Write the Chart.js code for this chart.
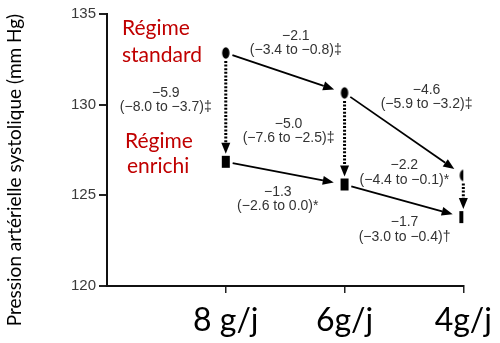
<!DOCTYPE html>
<html>
<head>
<meta charset="utf-8">
<script src="https://cdn.jsdelivr.net/npm/chart.js@4"></script>
<style>
  html, body { margin: 0; padding: 0; background: #fff; }
  #chart { display: block; }
</style>
</head>
<body>
<canvas id="chart" width="500" height="343"></canvas>
<script>
// 食塩摂取量ごとの収縮期血圧
const doses = ['8 g/j', '6g/j', '4g/j'];
const doseIndex = [1, 2, 3];
const standardBP = [132.85, 130.65, 126.1];
const enrichedBP = [126.85, 125.6, 123.8];
const yTicks = [120, 125, 130, 135];

// 差の表示（平均、95%CI）
const standardDiffs = [['\u22122.1', '(\u22123.4 to \u22120.8)\u2021'], ['\u22124.6', '(\u22125.9 to \u22123.2)\u2021']];
const enrichedDiffs = [['\u22121.3', '(\u22122.6 to 0.0)*'], ['\u22121.7', '(\u22123.0 to \u22120.4)\u2020']];
const betweenDiffs = [['\u22125.9', '(\u22128.0 to \u22123.7)\u2021'], ['\u22125.0', '(\u22127.6 to \u22122.5)\u2021'], ['\u22122.2', '(\u22124.4 to \u22120.1)*']];

const groupNames = [['Régime', 'standard'], ['Régime', 'enrichi']];
const yTitle = 'Pression artérielle systolique (mm Hg)';

function markerCanvas(kind) {
    const c = document.createElement('canvas');
    c.width = 12; c.height = 14;
    const g = c.getContext('2d');
    g.fillStyle = '#000';
    if (kind === 'ellipse') {
        g.beginPath();
        g.ellipse(6, 7, 3.7, 5.7, 0, 0, Math.PI * 2);
        g.fill();
    } else {
        g.fillRect(2, 1, 8, 12);
    }
    return c;
}

function arrow(ctx, x1, y1, x2, y2, dotted) {
    const dx = x2 - x1, dy = y2 - y1;
    const len = Math.hypot(dx, dy);
    const ux = dx / len, uy = dy / len;
    const headLen = 11, headW = 4.5;
    const bx = x2 - ux * headLen, by = y2 - uy * headLen;
    ctx.save();
    ctx.strokeStyle = '#000';
    ctx.fillStyle = '#000';
    if (dotted) {
        ctx.lineWidth = 3;
        ctx.setLineDash([2, 1.6]);
    } else {
        ctx.lineWidth = 1.8;
    }
    ctx.beginPath();
    ctx.moveTo(x1, y1);
    ctx.lineTo(bx, by);
    ctx.stroke();
    ctx.setLineDash([]);
    ctx.beginPath();
    ctx.moveTo(x2, y2);
    ctx.lineTo(bx - uy * headW, by + ux * headW);
    ctx.lineTo(bx + uy * headW, by - ux * headW);
    ctx.closePath();
    ctx.fill();
    ctx.restore();
}

function gapArrow(ctx, p, q, startGap, endGap, dotted) {
    const dx = q.x - p.x, dy = q.y - p.y;
    const len = Math.hypot(dx, dy);
    const ux = dx / len, uy = dy / len;
    arrow(ctx, p.x + ux * startGap, p.y + uy * startGap, q.x - ux * endGap, q.y - uy * endGap, dotted);
}

function twoLines(ctx, lines, x, y) {
    ctx.fillText(lines[0], x, y);
    ctx.fillText(lines[1], x, y + 14.5);
}

const annotations = {
    id: 'annotations',
    afterDatasetsDraw(chart) {
        const ctx = chart.ctx;
        const xs = chart.scales.x, ys = chart.scales.y;
        const S = standardBP.map((v, i) => ({ x: xs.getPixelForValue(doseIndex[i]), y: ys.getPixelForValue(v) }));
        const E = enrichedBP.map((v, i) => ({ x: xs.getPixelForValue(doseIndex[i]), y: ys.getPixelForValue(v) }));

        // 矢印
        for (let i = 0; i < 2; i++) {
            gapArrow(ctx, S[i], S[i + 1], 7, 11, false);
            gapArrow(ctx, E[i], E[i + 1], 7, 11, false);
        }
        for (let i = 0; i < 3; i++) {
            gapArrow(ctx, S[i], E[i], 8, 8, true);
        }

        // 数値ラベル
        ctx.save();
        ctx.fillStyle = '#333';
        ctx.font = '14px "Liberation Sans", Arial, sans-serif';
        ctx.textAlign = 'center';
        ctx.textBaseline = 'middle';
        twoLines(ctx, standardDiffs[0], S[0].x + 70, S[0].y - 17);
        twoLines(ctx, standardDiffs[1], S[1].x + 82, S[1].y - 3);
        twoLines(ctx, betweenDiffs[0], S[0].x - 60, S[0].y + 40);
        twoLines(ctx, betweenDiffs[1], S[1].x - 56, S[1].y + 31);
        twoLines(ctx, betweenDiffs[2], S[2].x - 59, S[2].y - 10);
        twoLines(ctx, enrichedDiffs[0], E[0].x + 52, E[0].y + 30);
        twoLines(ctx, enrichedDiffs[1], E[1].x + 60, E[1].y + 38);

        // グループ名
        ctx.fillStyle = '#c00000';
        ctx.font = '21px Lato, "Open Sans", sans-serif';
        ctx.textAlign = 'left';
        ctx.textBaseline = 'alphabetic';
        ctx.fillText(groupNames[0][0], 122, 35);
        ctx.fillText(groupNames[0][1], 122, 62);
        ctx.fillText(groupNames[1][0], 125, 148);
        ctx.fillText(groupNames[1][1], 127, 173);

        // 縦軸タイトル
        ctx.fillStyle = '#000';
        ctx.font = '19px Lato, "Open Sans", sans-serif';
        ctx.textAlign = 'center';
        ctx.textBaseline = 'middle';
        ctx.translate(15, 170);
        ctx.rotate(-Math.PI / 2);
        ctx.fillText(yTitle, 0, 0);
        ctx.restore();
    }
};

new Chart(document.getElementById('chart').getContext('2d'), {
    type: 'scatter',
    data: {
        datasets: [
            { label: 'standard', data: doseIndex.map((x, i) => ({ x, y: standardBP[i] })), pointStyle: markerCanvas('ellipse') },
            { label: 'enrichi', data: doseIndex.map((x, i) => ({ x, y: enrichedBP[i] })), pointStyle: markerCanvas('rect') }
        ]
    },
    options: {
        responsive: false,
        animation: false,
        layout: { padding: { top: 14, right: 35, left: 0, bottom: 0 } },
        plugins: { legend: { display: false }, tooltip: { enabled: false } },
        scales: {
            x: {
                type: 'linear',
                min: 0,
                max: 3,
                afterBuildTicks: scale => { scale.ticks = doseIndex.map(v => ({ value: v })); },
                afterFit: scale => { scale.height = 57; },
                ticks: {
                    callback: v => doses[v - 1] || '',
                    color: '#000',
                    font: { family: 'Lato', size: 32 },
                    padding: 8,
                    maxRotation: 0,
                    autoSkip: false
                },
                grid: { drawOnChartArea: false, drawTicks: true, tickLength: 7, color: '#222', lineWidth: 1.5 },
                border: { display: true, color: '#111', width: 2 }
            },
            y: {
                min: yTicks[0],
                max: yTicks[yTicks.length - 1],
                afterBuildTicks: scale => { scale.ticks = yTicks.map(v => ({ value: v })); },
                afterFit: scale => { scale.width = 107; },
                ticks: {
                    color: '#3a3a3a',
                    font: { family: '"Liberation Sans", Arial', size: 15 },
                    padding: 3
                },
                grid: { drawOnChartArea: false, drawTicks: true, tickLength: 8, color: '#222', lineWidth: 2 },
                border: { display: true, color: '#111', width: 2 }
            }
        }
    },
    plugins: [annotations]
});
</script>
</body>
</html>
